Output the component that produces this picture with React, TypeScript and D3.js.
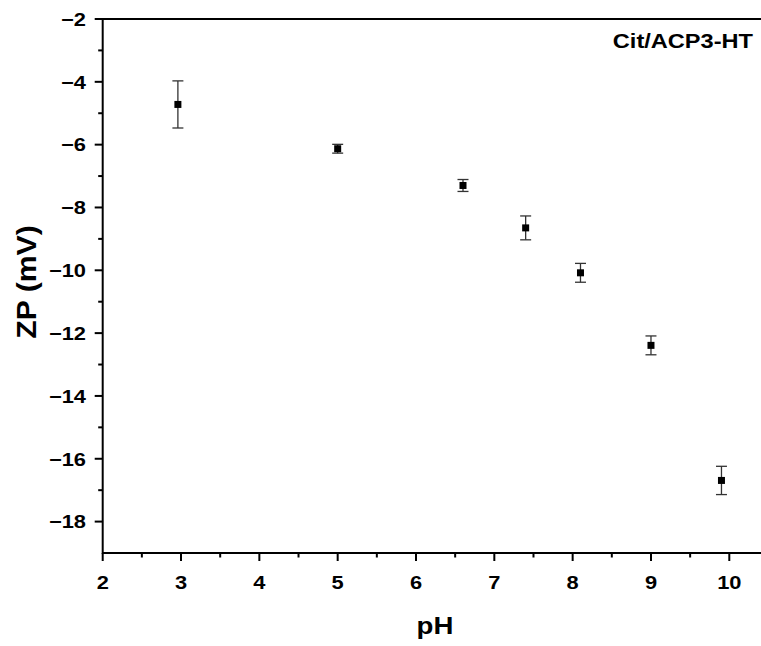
import React from "react";
import * as d3 from "d3";

const phValues = [2.96, 5.0, 6.6, 7.4, 8.1, 9.0, 9.9];
const zpValues = [-4.72, -6.13, -7.3, -8.65, -10.08, -12.39, -16.69];
const zpErrors = [0.75, 0.14, 0.19, 0.38, 0.3, 0.3, 0.45];
const xTicks = [2, 3, 4, 5, 6, 7, 8, 9, 10];
const yTicks = [-2, -4, -6, -8, -10, -12, -14, -16, -18];
const xMinor = [2.5, 3.5, 4.5, 5.5, 6.5, 7.5, 8.5, 9.5];
const yMinor = [-3, -5, -7, -9, -11, -13, -15, -17];
const sampleLabel = "Cit/ACP3-HT";

const W = 761;
const H = 646;
const left = 102.7;
const top = 19;
const bottom = 553;
const font = "'Liberation Sans', Arial, sans-serif";

function T(props: { x: number; y: number; anchor: string; size: number; sx: number; rot?: number; children: any }) {
  const { x, y, anchor, size, sx, rot = 0, children } = props;
  return (
    <text
      transform={`translate(${x},${y}) rotate(${rot}) scale(${sx},1)`}
      textAnchor={anchor}
      fontFamily={font}
      fontWeight="bold"
      fontSize={size}
      fill="#000"
    >
      {children}
    </text>
  );
}

export default function App() {
  const x = d3.scaleLinear().domain([2, 10]).range([left, 729.3]);
  const y = d3.scaleLinear().domain([-19, -2]).range([bottom, top]);
  const right = x(10.6);
  const data = phValues.map((p, i) => ({ p, z: zpValues[i], e: zpErrors[i] }));
  return (
    <svg width={W} height={H} style={{ position: "absolute", left: 0, top: 0, background: "#fff" }}>
      <rect x={0} y={0} width={W} height={H} fill="#fff" />
      <line x1={left} x2={right} y1={top} y2={top} stroke="#000" strokeWidth={2} />
      <line x1={left} x2={right} y1={bottom} y2={bottom} stroke="#000" strokeWidth={2} />
      <line x1={left} x2={left} y1={top - 1} y2={bottom + 1} stroke="#000" strokeWidth={2} />
      <line x1={right} x2={right} y1={top} y2={bottom} stroke="#000" strokeWidth={2} />
      {xTicks.map((t) => (
        <g key={"xt" + t}>
          <line x1={x(t)} x2={x(t)} y1={bottom} y2={bottom + 8} stroke="#000" strokeWidth={2} />
          <T x={x(t)} y={589} anchor="middle" size={19} sx={1.15}>
            {t}
          </T>
        </g>
      ))}
      {xMinor.map((t) => (
        <line key={"xm" + t} x1={x(t)} x2={x(t)} y1={bottom} y2={bottom + 4.5} stroke="#000" strokeWidth={2} />
      ))}
      {yTicks.map((t) => (
        <g key={"yt" + t}>
          <line x1={left - 8} x2={left} y1={y(t)} y2={y(t)} stroke="#000" strokeWidth={2} />
          <T x={86} y={y(t) + 6.8} anchor="end" size={19} sx={1.15}>
            {"\u2212" + Math.abs(t)}
          </T>
        </g>
      ))}
      {yMinor.map((t) => (
        <line key={"ym" + t} x1={left - 4.5} x2={left} y1={y(t)} y2={y(t)} stroke="#000" strokeWidth={2} />
      ))}
      <T x={435} y={634} anchor="middle" size={24} sx={1.15}>
        pH
      </T>
      <T x={36} y={282} anchor="middle" size={27} sx={1.12} rot={-90}>
        ZP (mV)
      </T>
      <T x={753} y={48} anchor="end" size={20} sx={1.18}>
        {sampleLabel}
      </T>
      {data.map((d, i) => {
        const cx = x(d.p);
        const y1 = y(d.z + d.e);
        const y2 = y(d.z - d.e);
        return (
          <g key={"pt" + i}>
            <line x1={cx} x2={cx} y1={y1} y2={y2} stroke="#333" strokeWidth={1.3} />
            <line x1={cx - 5.5} x2={cx + 5.5} y1={y1} y2={y1} stroke="#333" strokeWidth={1.3} />
            <line x1={cx - 5.5} x2={cx + 5.5} y1={y2} y2={y2} stroke="#333" strokeWidth={1.3} />
            <rect x={cx - 3.5} y={y(d.z) - 3.5} width={7} height={7} fill="#000" />
          </g>
        );
      })}
    </svg>
  );
}
